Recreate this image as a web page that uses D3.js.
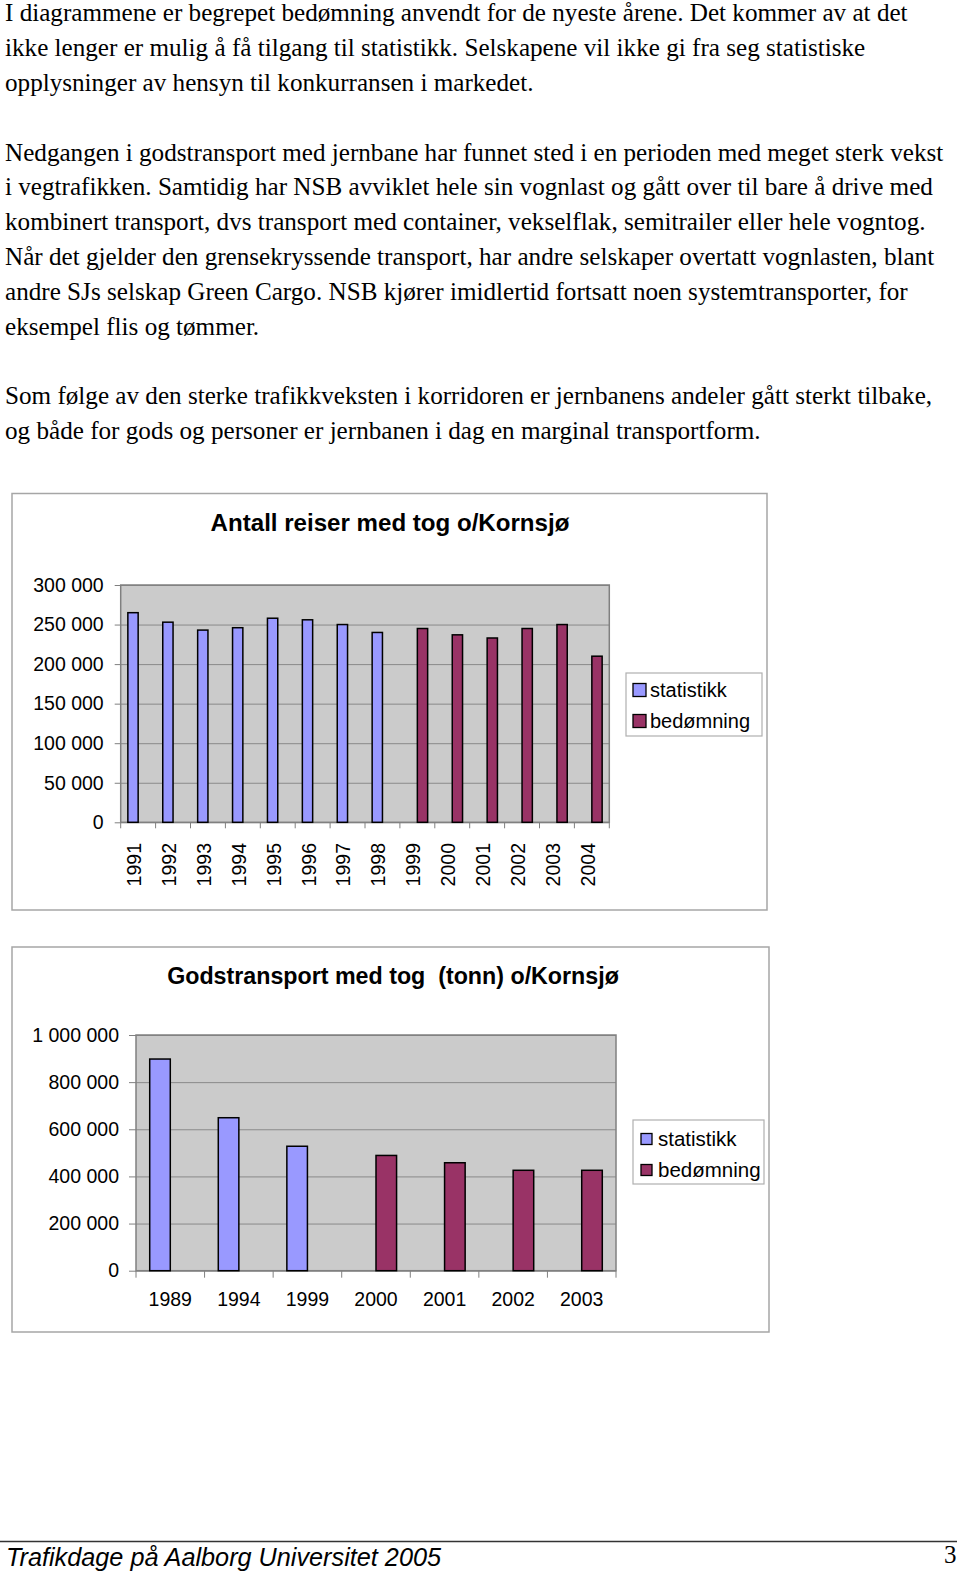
<!DOCTYPE html>
<html><head><meta charset="utf-8">
<script src="https://cdn.jsdelivr.net/npm/d3@7"></script>
<style>body{margin:0;background:#fff}svg{display:block}</style>
</head><body><svg id="c" width="960" height="1573"></svg>
<script>
// ---------- data ----------
const paraRows = [
  "I diagrammene er begrepet bedømning anvendt for de nyeste årene. Det kommer av at det",
  "ikke lenger er mulig å få tilgang til statistikk. Selskapene vil ikke gi fra seg statistiske",
  "opplysninger av hensyn til konkurransen i markedet.",
  "",
  "Nedgangen i godstransport med jernbane har funnet sted i en perioden med meget sterk vekst",
  "i vegtrafikken. Samtidig har NSB avviklet hele sin vognlast og gått over til bare å drive med",
  "kombinert transport, dvs transport med container, vekselflak, semitrailer eller hele vogntog.",
  "Når det gjelder den grensekryssende transport, har andre selskaper overtatt vognlasten, blant",
  "andre SJs selskap Green Cargo. NSB kjører imidlertid fortsatt noen systemtransporter, for",
  "eksempel flis og tømmer.",
  "",
  "Som følge av den sterke trafikkveksten i korridoren er jernbanens andeler gått sterkt tilbake,",
  "og både for gods og personer er jernbanen i dag en marginal transportform."
];
const seriesNames = ["statistikk", "bedømning"];

const title1 = "Antall reiser med tog o/Kornsjø";
const years1 = ["1991","1992","1993","1994","1995","1996","1997","1998","1999","2000","2001","2002","2003","2004"];
const stat1  = [265000,253000,243000,246000,258000,256000,250000,240000,null,null,null,null,null,null];
const bed1   = [null,null,null,null,null,null,null,null,245000,237000,233000,245000,250000,210000];
const ticks1 = [0,50000,100000,150000,200000,250000,300000];

const title2 = "Godstransport med tog  (tonn) o/Kornsjø";
const years2 = ["1989","1994","1999","2000","2001","2002","2003"];
const stat2  = [898000,649000,528000,null,null,null,null];
const bed2   = [null,null,null,489000,458000,426000,426000];
const ticks2 = [0,200000,400000,600000,800000,1000000];

const footerText = "Trafikdage på Aalborg Universitet 2005";
const pageNo = "3";

// ---------- setup ----------
const colors = {"statistikk":"#9999ff","bedømning":"#993366"};
const fmt = d3.formatLocale({decimal:",",thousands:" ",grouping:[3],currency:["",""]}).format(",");
const svg = d3.select("#c");
svg.append("rect").attr("width",960).attr("height",1573).attr("fill","#fff");
const SANS = "'Liberation Sans', Arial, Helvetica, sans-serif";
const SERIF = "'Liberation Serif', 'Times New Roman', serif";

// ---------- paragraphs ----------
const pg = svg.append("g").attr("font-family",SERIF).attr("fill","#000");
const ptx = pg.selectAll("text").data(paraRows).join("text")
  .attr("x",5).attr("y",(d,i)=>21.3+i*34.8).attr("font-size",24).text(d=>d);
{
  const len = ptx.filter((d,i)=>i===4).node().getComputedTextLength();
  ptx.attr("font-size", 24*939/len);
}

// ---------- chart ----------
function drawChart(cfg){
  const g = svg.append("g");
  g.append("rect").attr("x",cfg.frame[0]).attr("y",cfg.frame[1])
    .attr("width",cfg.frame[2]-cfg.frame[0]).attr("height",cfg.frame[3]-cfg.frame[1])
    .attr("fill","#fff").attr("stroke","#a6a6a6").attr("stroke-width",1.5);
  const [L,T,R,B] = cfg.plot;
  const x0 = d3.scaleBand().domain(cfg.cats).range([L,R]).paddingInner(cfg.pad).paddingOuter(cfg.pad/2);
  const x1 = d3.scaleBand().domain(seriesNames).range([0,x0.bandwidth()]);
  const y = d3.scaleLinear().domain([0,cfg.max]).range([B,T]);

  g.append("rect").attr("x",L).attr("y",T).attr("width",R-L).attr("height",B-T).attr("fill","#cbcbcb");
  // gridlines
  g.append("g").attr("transform",`translate(${L},0)`)
    .call(d3.axisLeft(y).tickValues(cfg.ticks).tickSize(-(R-L)).tickFormat(""))
    .call(a=>a.select(".domain").remove())
    .call(a=>a.selectAll("line").attr("stroke","#8a8a8a"));
  // y axis
  g.append("g").attr("transform",`translate(${L},0)`)
    .call(d3.axisLeft(y).tickValues(cfg.ticks).tickSize(cfg.tick).tickPadding(cfg.ypad).tickFormat(fmt))
    .call(a=>a.select(".domain").remove())
    .call(a=>a.selectAll("line").attr("stroke","#808080"))
    .call(a=>a.selectAll("text").attr("font-family",SANS).attr("font-size",cfg.fs).attr("fill","#000"));
  // plot border
  g.append("rect").attr("x",L).attr("y",T).attr("width",R-L).attr("height",B-T)
    .attr("fill","none").attr("stroke","#808080").attr("stroke-width",1.5);
  // category ticks (between categories)
  const step = x0.step();
  g.append("g").selectAll("line").data(d3.range(cfg.cats.length+1)).join("line")
    .attr("x1",i=>L+i*step).attr("x2",i=>L+i*step).attr("y1",B).attr("y2",B+cfg.tick)
    .attr("stroke","#808080");
  // bars
  const series = [{name:"statistikk",vals:cfg.stat},{name:"bedømning",vals:cfg.bed}];
  series.forEach(s=>{
    const data = cfg.cats.map((c,i)=>({c,v:s.vals[i]})).filter(d=>d.v!=null);
    g.append("g").selectAll("rect").data(data).join("rect")
      .attr("x",d=>x0(d.c)+x1(s.name)).attr("width",x1.bandwidth())
      .attr("y",d=>y(d.v)).attr("height",d=>y(0)-y(d.v))
      .attr("fill",colors[s.name]).attr("stroke","#000").attr("stroke-width",1.5);
  });
  // x labels
  const xl = g.append("g").selectAll("text").data(cfg.cats).join("text")
    .attr("font-family",SANS).attr("font-size",cfg.fs).attr("fill","#000").text(d=>d);
  if(cfg.rotate){
    xl.attr("transform",d=>`translate(${x0(d)+x0.bandwidth()/2},${cfg.xly}) rotate(-90)`)
      .attr("text-anchor","end").attr("dy","0.15em");
  } else {
    xl.attr("x",d=>x0(d)+x0.bandwidth()/2).attr("y",cfg.xly).attr("text-anchor","middle").attr("dy","0.36em");
  }
  // title
  const t = g.append("text").attr("x",cfg.titleX).attr("y",cfg.titleY).attr("text-anchor","middle")
    .attr("font-family",SANS).attr("font-weight","bold").attr("font-size",22)
    .style("white-space","pre").attr("fill","#000").text(cfg.title);
  const tl = t.node().getComputedTextLength();
  t.attr("font-size",22*cfg.titleW/tl);
  // legend
  const lg = cfg.legend;
  g.append("rect").attr("x",lg.box[0]).attr("y",lg.box[1]).attr("width",lg.box[2]-lg.box[0]).attr("height",lg.box[3]-lg.box[1])
    .attr("fill","#fff").attr("stroke","#b0b0b0").attr("stroke-width",1.2);
  seriesNames.forEach((n,i)=>{
    const cy = lg.rows[i];
    g.append("rect").attr("x",lg.sx).attr("y",cy-lg.sw/2).attr("width",lg.sw).attr("height",lg.sw)
      .attr("fill",colors[n]).attr("stroke","#000").attr("stroke-width",1.3);
    g.append("text").attr("x",lg.tx).attr("y",cy).attr("dy","0.36em")
      .attr("font-family",SANS).attr("font-size",lg.fs).attr("fill","#000").text(n);
  });
}

drawChart({
  frame:[12,493.5,767,910], plot:[120.7,585,609.3,822.3],
  cats:years1, stat:stat1, bed:bed1, ticks:ticks1, max:300000, pad:0.41,
  tick:6, ypad:11, fs:19.5, rotate:true, xly:843,
  title:title1, titleX:390, titleY:530.5, titleW:359,
  legend:{box:[626,673,762,736], sx:633, sw:13, tx:650, fs:20, rows:[690,721]}
});
drawChart({
  frame:[12,947,769,1332], plot:[136,1035,616,1270.7],
  cats:years2, stat:stat2, bed:bed2, ticks:ticks2, max:1000000, pad:0.4,
  tick:7, ypad:10, fs:19.5, rotate:false, xly:1299,
  title:title2, titleX:393, titleY:984, titleW:452,
  legend:{box:[633,1120,764,1184], sx:641, sw:11, tx:658, fs:20.5, rows:[1139,1170]}
});

// ---------- footer ----------
svg.append("line").attr("x1",0).attr("x2",957).attr("y1",1541.5).attr("y2",1541.5)
  .attr("stroke","#333").attr("stroke-width",1.5);
svg.append("text").attr("x",6).attr("y",1566).attr("font-family","'Liberation Sans Narrow', "+SANS)
  .attr("font-style","italic").attr("font-size",26).attr("textLength",435).attr("lengthAdjust","spacingAndGlyphs")
  .attr("fill","#000").text(footerText);
svg.append("text").attr("x",944).attr("y",1563).attr("font-family",SERIF).attr("font-size",25)
  .attr("fill","#000").text(pageNo);
</script></body></html>
